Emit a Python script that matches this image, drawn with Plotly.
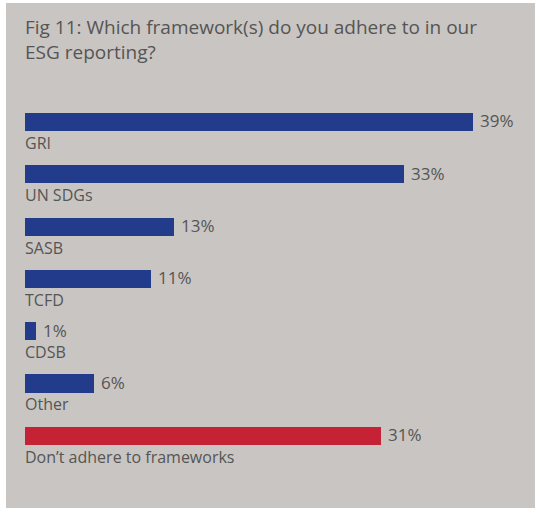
import plotly.graph_objects as go

# Survey responses: share of respondents per reporting framework
categories = ["GRI", "UN SDGs", "SASB", "TCFD", "CDSB", "Other", "Don\u2019t adhere to frameworks"]
values = [39, 33, 13, 11, 1, 6, 31]
bar_colors = ["#233b8b"] * 6 + ["#c62236"]

title_text = "Fig 11: Which framework(s) do you adhere to in our<br>ESG reporting?"

PANEL = "#c9c5c2"
TEXT = "#555555"
FONT = "Open Sans, Noto Sans, sans-serif"

W, H = 535, 509
ML, MT, MB = 6, 3, 1
PW, PH = W - ML, H - MT - MB

fig = go.Figure(
    go.Bar(
        x=values,
        y=categories,
        orientation="h",
        marker=dict(color=bar_colors, line=dict(width=0)),
        width=0.345,
        hoverinfo="skip",
    )
)

annotations = []
for cat, val in zip(categories, values):
    # value label to the right of each bar
    annotations.append(dict(
        x=val, y=cat, xref="x", yref="y", text=f"{val}%",
        showarrow=False, xanchor="left", yanchor="middle", xshift=5, yshift=1,
        font=dict(family=FONT, size=17, color=TEXT),
    ))
    # category label beneath each bar
    annotations.append(dict(
        x=0, y=cat, xref="x", yref="y", text=cat,
        showarrow=False, xanchor="left", yanchor="middle", xshift=-2, yshift=-21,
        font=dict(family=FONT, size=16, color=TEXT),
    ))

# chart title, placed in pixel terms relative to the plot area
annotations.append(dict(
    x=(23 - ML) / PW, y=1 - (12 - MT) / PH, xref="paper", yref="paper",
    text=title_text, showarrow=False, xanchor="left", yanchor="top", align="left",
    font=dict(family=FONT, size=19, color=TEXT),
))

fig.update_layout(
    width=W,
    height=H,
    margin=dict(l=ML, r=0, t=MT, b=MB),
    paper_bgcolor="white",
    plot_bgcolor=PANEL,
    showlegend=False,
    bargap=0,
    xaxis=dict(range=[-1.654, 44.4], visible=False, fixedrange=True),
    yaxis=dict(
        type="category",
        categoryorder="array",
        categoryarray=categories,
        range=[7.381, -2.275],
        visible=False,
        fixedrange=True,
    ),
    annotations=annotations,
)

fig.write_html("out.html", config={"displayModeBar": False})
